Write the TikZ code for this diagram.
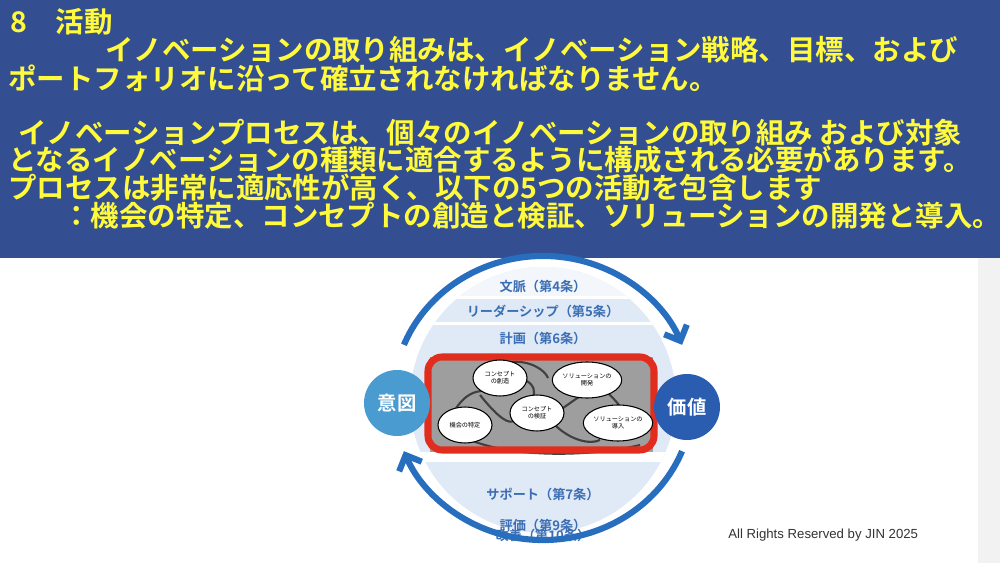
\documentclass[tikz,border=0pt]{standalone}
\usepackage{fontspec}
\newfontfamily\jp{Noto Sans CJK JP}
\newfontfamily\jpb{Noto Sans CJK JP Bold}
\setmainfont{Liberation Sans}
\usetikzlibrary{arrows.meta}
\definecolor{banner}{RGB}{52,78,146}
\definecolor{ytext}{RGB}{255,250,60}
\definecolor{arcblue}{RGB}{40,110,190}
\definecolor{bandtxt}{RGB}{60,110,180}
\definecolor{pale}{RGB}{224,234,246}
\definecolor{intent}{RGB}{74,155,208}
\definecolor{valuec}{RGB}{42,93,176}
\definecolor{redb}{RGB}{225,45,30}
\tikzset{
  hl/.style={anchor=west,inner sep=0,text=ytext,font=\jpb\fontsize{16.2}{18}\selectfont},
  band/.style={text=bandtxt,font=\jpb\fontsize{7.5}{8}\selectfont,inner sep=0},
  bub/.style={ellipse,draw=black,fill=white,line width=0.6pt,minimum width=54*0.02cm,minimum height=36*0.02cm,inner sep=0,align=center,font=\jp\fontsize{3.5}{4}\selectfont},
  bigc/.style={circle,minimum size=66*0.02cm,inner sep=0,text=white,font=\jpb\fontsize{11}{12}\selectfont},
  arc/.style={arcblue,line width=3.5pt,-{Straight Barb[length=7pt,width=14pt]}},
  curve/.style={black!75,line width=1.2pt}
}
\usetikzlibrary{shapes.geometric}
\begin{document}
\begin{tikzpicture}[x=0.02cm,y=-0.02cm]
\useasboundingbox (0,0) rectangle (1000,563);
\fill[white] (0,0) rectangle (1000,563);
\fill[banner] (0,0) rectangle (1000,258);
\fill[black!5] (978,258) rectangle (1000,563);
\node[hl] (t0) at (10,22) {8　活動};
\node[hl] (t1) at (105,50) {イノベーションの取り組みは、イノベーション戦略、目標、および};
\node[hl] (t2) at (8,78) {ポートフォリオに沿って確立されなければなりません。};
\node[hl] (t3) at (18,133) {イノベーションプロセスは、個々のイノベーションの取り組み および対象};
\node[hl] (t4) at (8,160) {となるイノベーションの種類に適合するように構成される必要があります。};
\node[hl] (t5) at (8,188) {プロセスは非常に適応性が高く、以下の5つの活動を包含します};
\node[hl] (t6) at (62,216) {：機会の特定、コンセプトの創造と検証、ソリューションの開発と導入。};
% pale disc
\begin{scope}
\clip (543,400) circle (133);
\fill[pale] (380,250) rectangle (710,560);
\fill[white!60!pale] (380,250) rectangle (710,296);
\fill[white] (380,296) rectangle (710,299);
\fill[white] (380,322) rectangle (710,325);
\fill[white] (380,452) rectangle (710,462);
\end{scope}
\node[band] (b4) at (543,286) {文脈（第4条）};
\node[band] (b5) at (543,311) {リーダーシップ（第5条）};
\node[band] (b6) at (543,338) {計画（第6条）};
\node[band] (b7) at (543,494) {サポート（第7条）};
\node[band] (b9) at (543,525) {評価（第9条）};
\node[band] (b10) at (543,535) {改善（第10条）};
% arcs
\draw[arc] (543,398) ++(202:150 and 142) arc[start angle=202,end angle=338,x radius=150,y radius=142];
\draw[arc] (543,398) ++(22:150 and 142) arc[start angle=22,end angle=158,x radius=150,y radius=142];
% gray box
\fill[black!38] (430,357) rectangle (653,452);
\draw[curve] (455,410) .. controls (470,385) and (490,390) .. (500,395);
\draw[curve] (470,440) .. controls (520,460) and (600,455) .. (640,445);
\draw[curve] (510,362) .. controls (530,360) and (545,370) .. (548,378);
\draw[curve] (480,395) .. controls (500,420) and (510,425) .. (515,420);
\draw[curve] (560,410) .. controls (575,400) and (580,395) .. (585,395);
\draw[curve] (600,385) .. controls (615,400) and (620,405) .. (620,408);
\draw[curve] (555,425) .. controls (570,440) and (590,445) .. (600,440);
\draw[curve] (525,380) .. controls (535,385) and (535,392) .. (533,398);
\draw[redb,line width=4pt,rounded corners=8pt] (428,357) rectangle (654,450);
\node[bub] (n1) at (500,378) {コンセプト\\の創造};
\node[bub] (n2) at (587,380) {ソリューションの\\開発};
\node[bub] (n3) at (465,425) {機会の特定};
\node[bub] (n4) at (537,413) {コンセプト\\の検証};
\node[bub] (n5) at (618,423) {ソリューションの\\導入};
\node[bigc,fill=intent] (it) at (397,403) {意図};
\node[bigc,fill=valuec] (va) at (687,407) {価値};
\node[font=\fontsize{7.5}{9}\selectfont,text=black!80,anchor=west,inner sep=0] (cr) at (728,535) {All Rights Reserved by JIN 2025};
\end{tikzpicture}
\end{document}
